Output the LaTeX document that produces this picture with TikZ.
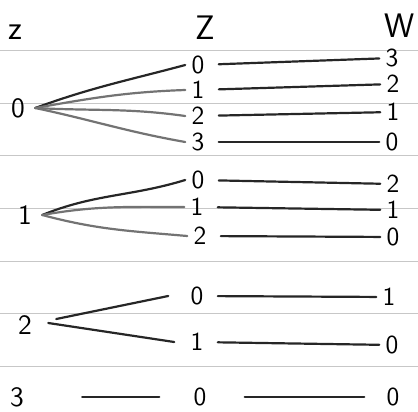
\documentclass[tikz,border=0pt]{standalone}
\usetikzlibrary{positioning}
\tikzset{
  val/.style    = {font=\sffamily\fontsize{13}{14}\selectfont, inner sep=3pt},
  src/.style    = {font=\sffamily\fontsize{14}{15}\selectfont, inner sep=5pt},
  hd/.style     = {font=\sffamily\fontsize{17}{19}\selectfont, inner sep=1pt},
  pen/.style    = {draw=black!85, line width=1.1pt, line cap=round},
  pencil/.style = {draw=black!55, line width=1.1pt, line cap=round},
  rule/.style   = {draw=black!22, line width=0.4pt},
}

\begin{document}
\begin{tikzpicture}[x=0.5pt, y=-0.5pt]
  \useasboundingbox (0,0) rectangle (418,412);
  % ruled paper
  \foreach \y in {50,103,155.5,208,261,313.5,366}
     \draw[rule] (0,\y) -- (418,\y);

  % headings
  \node[hd] (hz) at (15,32) {z};
  \node[hd] (hZ) at (205,28) {Z};
  \node[hd] (hW) at (400,26) {W};

  % left column
  \foreach \n/\x/\y/\t in {y0/18/108/0, y1/25/215/1, y2/25/325/2, y3/17/397/3}
     \node[src] (\n) at (\x,\y) {\t};

  % Z and W values
  \foreach \n/\x/\y/\t in {%
      z00/198/65/0, z01/198/90/1, z02/198/116/2, z03/198/142/3,
      z10/198/180/0, z11/197/207/1, z12/200/236/2,
      z20/197/296/0, z21/197/342/1,
      z30/200/397/0,
      w00/392/58/3, w01/393/84/2, w02/393/112/1, w03/392/142/0,
      w10/393/184/2, w11/393/210/1, w12/393/237/0,
      w20/389/297/1, w21/392/345/0,
      w30/393/397/0}
     \node[val] (\n) at (\x,\y) {\t};

  % ---- fans --------------------------------------------------------------
  \draw[pen]    (y0.east) to[out=20, in=195]  (z00.west);
  \draw[pencil] (y0.east) to[out=10, in=182]  (z01.west);
  \draw[pencil] (y0.east) to[out=-3, in=172]  (z02.west);
  \draw[pencil] (y0.east) to[out=-12, in=170] (z03.west);

  \draw[pen]    (y1.east) to[out=22, in=197]  (z10.west);
  \draw[pencil] (y1.east) to[out=10, in=180]  (z11.west);
  \draw[pencil] (y1.east) to[out=-15, in=175] (z12.west);

  \draw[pen] ([xshift=7pt, yshift=3pt]y2.east) -- ([xshift=-8pt]z20.west);
  \draw[pen] ([xshift=3pt, yshift=1pt]y2.east) -- ([xshift=-5pt]z21.west);

  \draw[pen, shorten <=24, shorten >=14] (y3) -- (z30);

  % ---- Z to W --------------------------------------------------------------
  \foreach \a/\b in {z00/w00, z01/w01, z02/w02, z03/w03,
                     z10/w10, z11/w11, z12/w12, z20/w20, z21/w21}
     \draw[pen, shorten <=4] (\a) -- (\b);
  \draw[pen, shorten <=16, shorten >=8] (z30) -- (w30);
\end{tikzpicture}
\end{document}
